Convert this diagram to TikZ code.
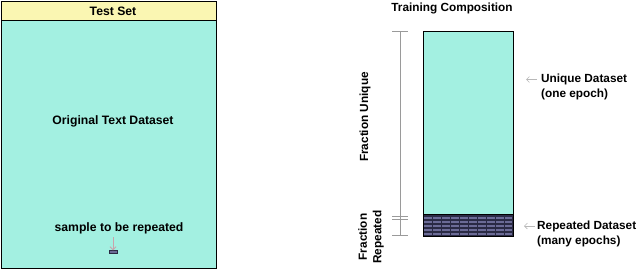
\documentclass[tikz,border=0pt]{standalone}
\usepackage{fontspec}
\setmainfont{Liberation Sans}
\usetikzlibrary{arrows.meta}
\definecolor{teal1}{HTML}{A3F0E1}
\definecolor{yel}{HTML}{FAF6B2}
\definecolor{navy}{HTML}{2A2A44}
\definecolor{stripe}{HTML}{6B6B96}
\definecolor{brk}{HTML}{9A9A9A}
\definecolor{pinkar}{HTML}{C9A3AB}
\tikzset{
  lbl/.style={font=\bfseries\fontsize{11.8}{14.5}\selectfont, text=black, inner sep=0pt},
  lblL/.style={font=\bfseries\fontsize{12.2}{14.5}\selectfont, text=black, inner sep=0pt},
  box/.style={draw=black, line width=0.9pt},
  brkline/.style={draw=brk, line width=1pt},
  garrow/.style={draw=brk!70, line width=0.6pt, -{Straight Barb[length=3pt,width=6pt]}}
}
\begin{document}
\begin{tikzpicture}[x=1pt,y=-1pt]
\useasboundingbox (0,0) rectangle (640,269);
% left panel
\path[box, fill=teal1] (1,20) rectangle (216,268);
\path[box, fill=yel] (1,1) rectangle (216,20);
\node[lblL] (test) at (113,11) {Test Set};
\node[lblL] (orig) at (113,121) {Original Text Dataset};
\node[lblL] (sample) at (119,228) {sample to be repeated};
\node[draw=navy, fill=stripe, line width=1pt, minimum width=8pt, minimum height=2.5pt, inner sep=0pt] (samp) at (113,252) {};
\coordinate (sa) at (113,237);
\draw[draw=pinkar, line width=0.8pt, -{Straight Barb[length=3pt,width=6pt]}] (sa) -- (samp.north);
% right panel
\node[lbl] (title) at (452,8) {Training Composition};
\path[box, fill=teal1] (423,31) rectangle (513,236);
\fill[navy] (423,214) rectangle (513,236);
\foreach \y in {216.5,220.5,224.5,228.5,232.5} {
  \fill[stripe] (424,\y) rectangle (512,\y+2);
}
\foreach \x in {432,441,450,459,468,477,486,495,504} {
  \draw[navy, line width=0.8pt] (\x,214) -- (\x,236);
}
\draw[black, line width=0.9pt] (423,31) rectangle (513,236);
\draw[black, line width=0.9pt] (423,214) -- (513,214);
% brackets
\coordinate (bt) at (400,31);
\coordinate (bb) at (400,235);
\draw[brkline] (bt) -- (bb);
\draw[brkline] (392,31) -- (408,31);
\draw[brkline] (392,216) -- (408,216);
\draw[brkline] (392,219.5) -- (408,219.5);
\draw[brkline] (392,235) -- (408,235);
\node[lbl, rotate=90] (fu) at (365,117) {Fraction Unique};
\node[lbl, rotate=90, align=center] (fr) at (371,237) {Fraction\\Repeated};
% labels
\node[lbl, anchor=west, align=left] (ud) at (541,87) {Unique Dataset\\(one epoch)};
\node[lbl, anchor=west, align=left] (rd) at (537,234) {Repeated Dataset\\(many epochs)};
\coordinate (ua) at (537,79.5);
\coordinate (ra) at (535,226);
\draw[garrow] (ua) -- ++(-11,0);
\draw[garrow] (ra) -- ++(-11,0);
\end{tikzpicture}
\end{document}
